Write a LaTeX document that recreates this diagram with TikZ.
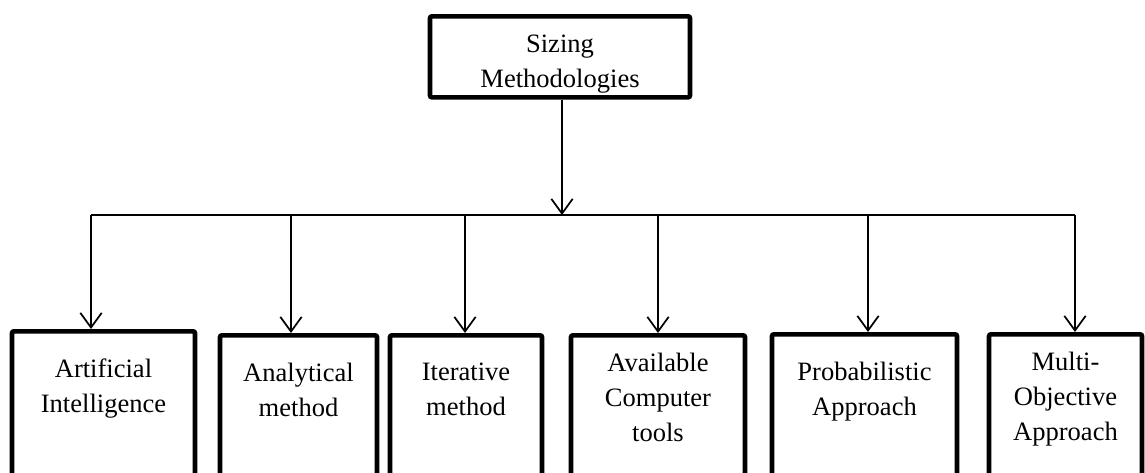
\documentclass[tikz,border=0pt]{standalone}
\usepackage{fontspec}
\setmainfont{Liberation Serif}
\usetikzlibrary{arrows.meta}
\newcommand{\lfont}{\fontsize{19.9}{26.3}\selectfont}

\tikzset{
  box/.style={draw, line width=3.5pt, rounded corners=1.5pt, anchor=north,
              minimum height=200pt, inner sep=0pt},
  txt/.style={anchor=north, inner sep=0pt, align=center, font=\lfont, yshift=-22pt},
  link/.style={line width=1.3pt, -{Straight Barb[length=11pt,width=16pt]}}
}

\begin{document}
\begin{tikzpicture}[x=0.75pt,y=-0.75pt]
  \useasboundingbox (0,0) rectangle (1145,472);
  \clip (0,0) rectangle (1145,472);
  % root box
  \node[box, minimum width=195pt, minimum height=60.75pt,
        label={[txt,yshift=6.25pt]north:Sizing\\Methodologies}] (root) at (560,14) {};
  % methods
  \node[box, minimum width=137.25pt, label={[txt]north:Artificial\\Intelligence}] (ai) at (103.5,329) {};
  \node[box, minimum width=117.75pt, label={[txt]north:Analytical\\method}] (anl) at (298.5,333) {};
  \node[box, minimum width=114pt, label={[txt]north:Iterative\\method}] (itr) at (466,333) {};
  \node[box, minimum width=130.5pt, label={[txt,yshift=7.5pt]north:Available\\Computer\\tools}] (comp) at (658,333) {};
  \node[box, minimum width=138.75pt, label={[txt]north:Probabilistic\\Approach}] (prob) at (864.5,332) {};
  \node[box, minimum width=114.75pt, label={[txt,yshift=7.5pt]north:Multi-\\Objective\\Approach}] (multi) at (1065.5,332) {};
  % bus
  \coordinate (hub) at (562,215);
  \coordinate (d1) at (91,215);
  \coordinate (d2) at (291,215);
  \coordinate (d3) at (465,215);
  \coordinate (d4) at (658,215);
  \coordinate (d5) at (868,215);
  \coordinate (d6) at (1075,215);
  \draw[line width=1.3pt] (d1) -- (d6);
  \draw[link] (root.south -| hub) -- (hub);
  \draw[link] (d1) -- (d1 |- ai.north);
  \draw[link] (d2) -- (d2 |- anl.north);
  \draw[link] (d3) -- (d3 |- itr.north);
  \draw[link] (d4) -- (d4 |- comp.north);
  \draw[link] (d5) -- (d5 |- prob.north);
  \draw[link] (d6) -- (d6 |- multi.north);
\end{tikzpicture}
\end{document}
